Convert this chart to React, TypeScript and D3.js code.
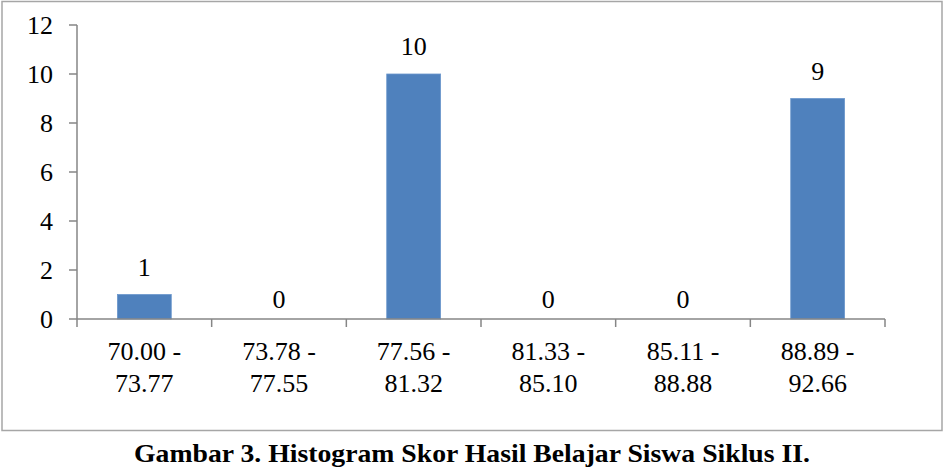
import React from "react";
import * as d3 from "d3";

const categories = ["70.00 -|73.77", "73.78 -|77.55", "77.56 -|81.32", "81.33 -|85.10", "85.11 -|88.88", "88.89 -|92.66"];
const counts = [1, 0, 10, 0, 0, 9];
const yTicks = [0, 2, 4, 6, 8, 10, 12];
const caption = "Gambar 3. Histogram Skor Hasil Belajar Siswa Siklus II.";

const W = 951;
const H = 472;
const left = 77;
const right = 885;
const top = 25;
const bottom = 319;
const FONT = "'Liberation Serif', 'Times New Roman', serif";
const AXIS = "#868686";

export default function App() {
  const x = d3.scaleBand<string>().domain(categories).range([left, right]).paddingInner(0).paddingOuter(0);
  const y = d3.scaleLinear().domain([0, 12]).range([bottom, top]);
  const bw = x.bandwidth() * 0.4;
  const boundaries = d3.range(categories.length + 1).map((i) => left + i * x.step());

  return (
    <svg width={W} height={H} style={{ position: "absolute", left: 0, top: 0, background: "#fff" }}>
      <rect x={2} y={1.5} width={940} height={429} fill="#fff" stroke="#a6a6a6" strokeWidth={1.5} />
      {/* y axis */}
      <line x1={left} x2={left} y1={y(12)} y2={y(0)} stroke={AXIS} strokeWidth={1.5} />
      {yTicks.map((t) => (
        <g key={t}>
          <line x1={left - 8} x2={left} y1={y(t)} y2={y(t)} stroke={AXIS} strokeWidth={1.5} />
          <text x={53} y={y(t) + 9} textAnchor="end" fontFamily={FONT} fontSize={26} fill="#000">
            {t}
          </text>
        </g>
      ))}
      {/* bars */}
      {categories.map((c, i) => {
        const cx = (x(c) as number) + x.bandwidth() / 2;
        const v = counts[i];
        return (
          <g key={c}>
            {v > 0 && (
              <rect x={cx - bw / 2} y={y(v)} width={bw} height={y(0) - y(v)} fill="#4F81BD" stroke="#6b97cc" strokeWidth={0.8} />
            )}
            <text x={cx} y={y(v) - (v > 0 ? 19 : 11)} textAnchor="middle" fontFamily={FONT} fontSize={26} fill="#000">
              {v}
            </text>
            {c.split("|").map((line, j) => (
              <text key={j} x={cx} y={360 + j * 32} textAnchor="middle" fontFamily={FONT} fontSize={26} fill="#000">
                {line}
              </text>
            ))}
          </g>
        );
      })}
      {/* x axis */}
      <line x1={left} x2={right} y1={y(0)} y2={y(0)} stroke={AXIS} strokeWidth={1.5} />
      {boundaries.map((b, i) => (
        <line key={i} x1={b} x2={b} y1={y(0)} y2={y(0) + 8} stroke={AXIS} strokeWidth={1.5} />
      ))}
      <text x={134} y={462} textLength={676} lengthAdjust="spacingAndGlyphs" fontFamily={FONT} fontSize={25} fontWeight="bold" fill="#000">
        {caption}
      </text>
    </svg>
  );
}
